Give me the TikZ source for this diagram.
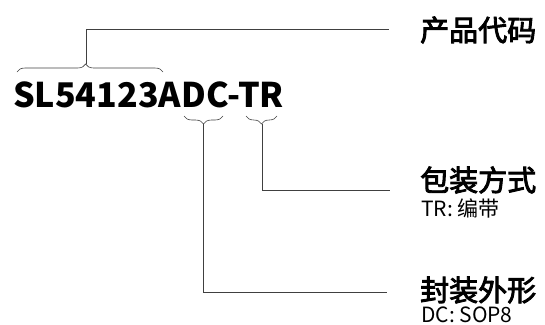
\documentclass[tikz,border=0pt]{standalone}
\usepackage{fontspec}
\setmainfont{Noto Sans CJK SC}
\newfontfamily\titlefont{Noto Sans CJK SC}[FakeBold=3]
\usetikzlibrary{positioning,decorations.pathreplacing}

\begin{document}
\begin{tikzpicture}[x=1pt, y=-1pt,
  partno/.style={font=\fontsize{34}{34}\selectfont\bfseries, inner sep=0pt, anchor=base west},
  title/.style={font=\fontsize{29}{29}\selectfont\titlefont, inner sep=0pt, anchor=west},
  note/.style={font=\fontsize{21}{21}\selectfont, inner sep=0pt, anchor=west},
  lead/.style={draw=black!75, line width=0.8pt},
  brc/.style={draw=black!75, line width=0.6pt, decorate, decoration={brace, amplitude=8pt, aspect=#1}},
  brc/.default=0.5]
\useasboundingbox (0,0) rectangle (545,324);
% part number
\node[partno] (pn) at (13,107) {SL54123ADC-TR};
% braces and their tips
\draw[brc=0.47] (17,72) -- (163,72);
\draw[brc] (223,116) -- (184,116);
\draw[brc] (277,116) -- (246,116);
\coordinate (tipA) at (86,64);
\coordinate (tipD) at (203,124);
\coordinate (tipT) at (262,124);
% labels on the right
\node[title] (code) at (420,30) {产品代码};
\node[title] (tape) at (420,180) {包装方式};
\node[note] (tapeN) at (421,208) {TR: 编带};
\node[title] (pkg) at (420,290) {封装外形};
\node[note] (pkgN) at (421,315) {DC: SOP8};
% leader lines
\coordinate (endA) at (389,29);
\coordinate (endT) at (390,190);
\coordinate (endD) at (387,292);
\draw[lead] (tipA) |- (endA);
\draw[lead] (tipT) |- (endT);
\draw[lead] (tipD) |- (endD);
\end{tikzpicture}
\end{document}
